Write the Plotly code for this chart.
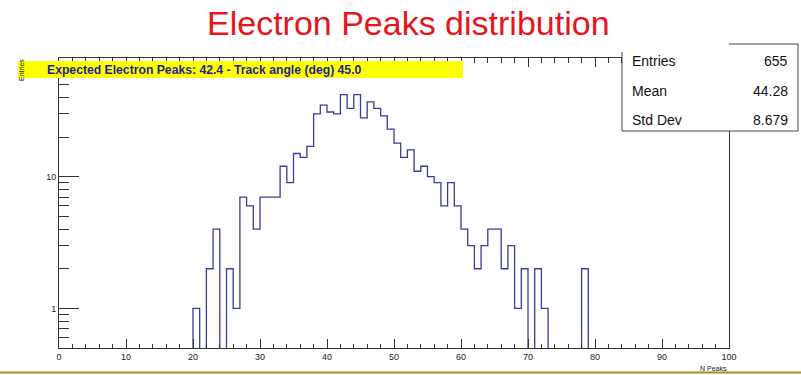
import numpy as np
import plotly.graph_objects as go

# ---------------- data ----------------
bin_low = list(range(20, 79))          # lower edges of 1-wide bins, 20 .. 78
counts = [1, 0, 2, 4, 0, 2, 1, 7, 6, 4,
          7, 7, 7, 12, 9, 15, 14, 17, 30, 35,
          31, 30, 42, 33, 42, 28, 37, 33, 29, 23,
          18, 14, 16, 11, 12, 10, 9, 6, 9, 6,
          4, 3, 2, 3, 4, 4, 2, 3, 1, 2,
          0, 2, 1, 0, 0, 0, 0, 0, 2]
stat_names = ["Entries", "Mean", "Std Dev"]
stat_values = ["655", "44.28", "8.679"]
x_ticks = list(range(0, 101, 10))
y_major = [1, 10]
y_minor = [0.6, 0.7, 0.8, 0.9, 2, 3, 4, 5, 6, 7, 8, 9, 20, 30, 40, 50, 60, 70]
title_text = "Electron Peaks distribution"
hist_title = "Expected Electron Peaks: 42.4 - Track angle (deg) 45.0"

# ---------------- geometry helpers ----------------
W, H = 801, 375
L, R, T, B = 59, 729, 58, 348   # plot frame in pixels


def px(x):
    return (x - L) / (R - L)


def py(y):
    return (B - y) / (B - T)


SANS = "Liberation Sans, Arial, sans-serif"
AXC = "#333333"

# step outline of the histogram (zero bins drop to the bottom of the frame)
floor = 1e-3
xs, ys = [bin_low[0]], [floor]
for lo, c in zip(bin_low, counts):
    v = c if c > 0 else floor
    xs += [lo, lo + 1]
    ys += [v, v]
xs.append(bin_low[-1] + 1)
ys.append(floor)

fig = go.Figure()
fig.add_trace(go.Scatter(x=xs, y=ys, mode="lines",
                         line=dict(color="#3b3b9c", width=1.3),
                         hoverinfo="skip", showlegend=False))

fig.update_layout(
    width=W, height=H,
    margin=dict(l=L, r=W - R, t=T, b=H - B),
    paper_bgcolor="white", plot_bgcolor="white",
    showlegend=False,
    font=dict(family=SANS, color="#222222", size=9),
)

fig.update_xaxes(
    range=[0, 100], tickmode="array", tickvals=x_ticks,
    ticks="inside", ticklen=9, tickwidth=1, tickcolor=AXC,
    showline=True, linecolor=AXC, linewidth=1, mirror="ticks",
    showgrid=False, zeroline=False,
    minor=dict(dtick=2, tick0=0, ticks="inside", ticklen=4.5, tickwidth=1,
               tickcolor=AXC, showgrid=False),
    tickfont=dict(family=SANS, size=9, color="#222222"),
)
fig.update_yaxes(
    type="log", range=[np.log10(0.5), 1.9015],
    tickmode="array", tickvals=y_major, ticktext=[str(v) for v in y_major],
    ticks="inside", ticklen=20, tickwidth=1, tickcolor=AXC,
    showline=True, linecolor=AXC, linewidth=1, mirror=True,
    showgrid=False, zeroline=False,
    minor=dict(tickmode="array", tickvals=y_minor, ticks="inside", ticklen=10,
               tickwidth=1, tickcolor=AXC, showgrid=False),
    tickfont=dict(family=SANS, size=9, color="#222222"),
)

shapes = []
# yellow histogram-title band
shapes.append(dict(type="rect", xref="paper", yref="paper",
                   x0=px(18), x1=px(463), y0=py(78), y1=py(61),
                   fillcolor="#ffff00", line=dict(width=0), layer="above"))
# stats box
shapes.append(dict(type="rect", xref="paper", yref="paper",
                   x0=px(622), x1=px(798), y0=py(131), y1=py(44),
                   fillcolor="white", line=dict(width=0), layer="above"))
for (x0, y0, x1, y1) in [(622, 52, 622, 131), (622, 131, 798, 131),
                         (798, 44, 798, 131), (729, 44, 798, 44)]:
    shapes.append(dict(type="line", xref="paper", yref="paper",
                       x0=px(x0), x1=px(x1), y0=py(y0), y1=py(y1),
                       line=dict(color="#444444", width=1), layer="above"))
# golden rule at the bottom of the slide
shapes.append(dict(type="line", xref="paper", yref="paper",
                   x0=px(0), x1=px(W), y0=py(372.5), y1=py(372.5),
                   line=dict(color="#a8892a", width=2), layer="above"))

annotations = []
annotations.append(dict(text=title_text, xref="paper", yref="paper",
                        x=px(408), y=py(23), xanchor="center", yanchor="middle",
                        showarrow=False,
                        font=dict(family=SANS, size=34, color="#e8141b")))
annotations.append(dict(text="<b>" + hist_title + "</b>", xref="paper", yref="paper",
                        x=px(45), y=py(69.5), xanchor="left", yanchor="middle",
                        showarrow=False,
                        font=dict(family=SANS, size=12.2, color="#1f1f96")))
stat_y = [61, 91, 120]
for name, val, yy in zip(stat_names, stat_values, stat_y):
    annotations.append(dict(text=name, xref="paper", yref="paper",
                            x=px(630), y=py(yy), xanchor="left", yanchor="middle",
                            showarrow=False,
                            font=dict(family=SANS, size=14, color="#111111")))
    annotations.append(dict(text=val, xref="paper", yref="paper",
                            x=px(790), y=py(yy), xanchor="right", yanchor="middle",
                            showarrow=False,
                            font=dict(family=SANS, size=14, color="#111111")))
annotations.append(dict(text="Entries", xref="paper", yref="paper",
                        x=px(21), y=py(57), xanchor="center", yanchor="top",
                        textangle=-90, showarrow=False,
                        font=dict(family=SANS, size=7, color="#222222")))
annotations.append(dict(text="N Peaks", xref="paper", yref="paper",
                        x=px(729), y=py(368), xanchor="right", yanchor="middle",
                        showarrow=False,
                        font=dict(family=SANS, size=7, color="#222222")))

fig.update_layout(shapes=shapes, annotations=annotations)
fig.write_html("out.html",
               config={"displayModeBar": False},
               post_script="document.body.style.margin='0';document.body.style.padding='0';")
